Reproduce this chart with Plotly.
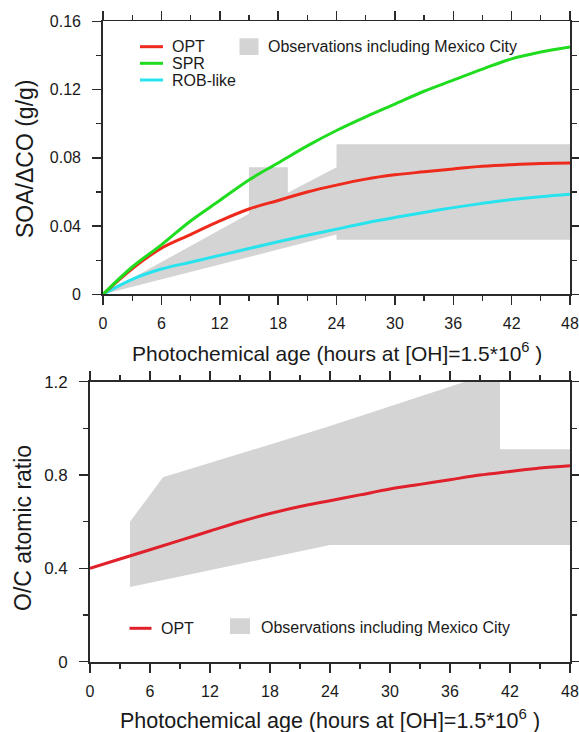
import plotly.graph_objects as go

# ---------------- data ----------------
hours = [0, 3, 6, 9, 12, 15, 18, 21, 24, 27, 30, 33, 36, 39, 42, 45, 48]

soa_opt = [0, 0.015, 0.027, 0.035, 0.043, 0.050, 0.055, 0.060, 0.064, 0.0675, 0.070,
           0.0718, 0.0735, 0.075, 0.076, 0.0767, 0.077]
soa_spr = [0, 0.016, 0.029, 0.043, 0.055, 0.067, 0.077, 0.087, 0.096, 0.104, 0.1115,
           0.119, 0.1255, 0.132, 0.138, 0.142, 0.145]
soa_rob = [0, 0.0088, 0.0148, 0.0188, 0.0228, 0.0268, 0.0308, 0.0346, 0.0382, 0.0418, 0.0450,
           0.0480, 0.0508, 0.0533, 0.0555, 0.0572, 0.0586]

# observed range (polygon outline) for SOA/dCO
obs_soa_hours = [0, 15, 15, 19, 19, 24, 24, 48, 48, 24, 24, 0]
obs_soa_vals = [0, 0.0472, 0.0744, 0.0744, 0.0595, 0.0745, 0.088, 0.088, 0.032, 0.032, 0.035, 0]

oc_opt = [0.40, 0.44, 0.48, 0.52, 0.56, 0.60, 0.635, 0.665, 0.69, 0.715, 0.74,
          0.76, 0.78, 0.80, 0.815, 0.83, 0.84]

# observed range (polygon outline) for O/C
obs_oc_hours = [4, 7.3, 24, 37.5, 41, 41, 48, 48, 24, 4]
obs_oc_vals = [0.60, 0.79, 1.01, 1.2, 1.2, 0.91, 0.91, 0.50, 0.50, 0.32]

x_ticks = [0, 6, 12, 18, 24, 30, 36, 42, 48]

# ---------------- layout helpers ----------------
W, H = 579, 732
FONT = "Liberation Sans, Arial, Helvetica, sans-serif"
TXT = "#1a1a1a"


def fx(p):
    return p / W


def fy(p):
    return 1 - p / H


RED = "#ee2a1c"
GREEN = "#1fdc1f"
CYAN = "#26e3ee"
GRAY = "rgb(212,212,212)"

fig = go.Figure()

# top panel
fig.add_trace(go.Scatter(x=obs_soa_hours, y=obs_soa_vals, fill="toself", fillcolor=GRAY,
                         line=dict(width=0, color=GRAY), mode="lines", hoverinfo="skip",
                         showlegend=False, xaxis="x", yaxis="y"))
fig.add_trace(go.Scatter(x=hours, y=soa_rob, mode="lines", line=dict(color=CYAN, width=3),
                         showlegend=False, xaxis="x", yaxis="y", line_shape="spline"))
fig.add_trace(go.Scatter(x=hours, y=soa_opt, mode="lines", line=dict(color=RED, width=3),
                         showlegend=False, xaxis="x", yaxis="y", line_shape="spline"))
fig.add_trace(go.Scatter(x=hours, y=soa_spr, mode="lines", line=dict(color=GREEN, width=3),
                         showlegend=False, xaxis="x", yaxis="y", line_shape="spline"))

# bottom panel
fig.add_trace(go.Scatter(x=obs_oc_hours, y=obs_oc_vals, fill="toself", fillcolor=GRAY,
                         line=dict(width=0, color=GRAY), mode="lines", hoverinfo="skip",
                         showlegend=False, xaxis="x2", yaxis="y2"))
fig.add_trace(go.Scatter(x=hours, y=oc_opt, mode="lines", line=dict(color="#e0202a", width=3),
                         showlegend=False, xaxis="x2", yaxis="y2", line_shape="spline"))

axis_common = dict(
    showline=True, linecolor="#2a2a2a", linewidth=1.8, mirror="ticks",
    ticks="outside", ticklen=9, tickwidth=1.5, tickcolor="#2a2a2a",
    showgrid=False, zeroline=False, fixedrange=True, automargin=False,
    tickfont=dict(family=FONT, size=16, color=TXT),
)

xaxis_common = dict(axis_common, range=[0, 48], tickvals=x_ticks, ticklabeloverflow="allow",
                    minor=dict(dtick=3, ticklen=5, tickwidth=1.3, tickcolor="#2a2a2a", ticks="outside"),
                    ticklabelstandoff=5)

fig.update_layout(
    width=W, height=H, autosize=False,
    margin=dict(l=0, r=0, t=0, b=0, pad=0, autoexpand=False),
    paper_bgcolor="white", plot_bgcolor="white",
    showlegend=False,
    xaxis=dict(xaxis_common, domain=[fx(103), fx(570)], anchor="y"),
    yaxis=dict(axis_common, domain=[fy(294.3), fy(21.3)], anchor="x", range=[0, 0.16],
               tickvals=[0, 0.04, 0.08, 0.12, 0.16], ticktext=["0", "0.04", "0.08", "0.12", "0.16"],
               minor=dict(dtick=0.02, ticklen=5, tickwidth=1.3, tickcolor="#2a2a2a", ticks="outside"),
               ticklabelstandoff=8),
    xaxis2=dict(xaxis_common, domain=[fx(90), fx(570)], anchor="y2"),
    yaxis2=dict(axis_common, domain=[fy(661.7), fy(381.7)], anchor="x2", range=[0, 1.2],
                tickvals=[0, 0.4, 0.8, 1.2], ticktext=["0", "0.4", "0.8", "1.2"],
                tickfont=dict(family=FONT, size=17, color=TXT),
                minor=dict(dtick=0.2, ticklen=5, tickwidth=1.3, tickcolor="#2a2a2a", ticks="outside"),
                ticklabelstandoff=8),
)

xtitle = "Photochemical age (hours at [OH]=1.5*10<sup>6</sup> )"
ann = [
    dict(text=xtitle, x=fx(336.5), y=fy(352), font=dict(family=FONT, size=21, color=TXT)),
    dict(text=xtitle, x=fx(330), y=fy(719), font=dict(family=FONT, size=21.5, color=TXT)),
    dict(text="SOA/ΔCO (g/g)", x=fx(25), y=fy(159), textangle=-90,
         font=dict(family=FONT, size=23, color=TXT)),
    dict(text="O/C atomic ratio", x=fx(23), y=fy(528), textangle=-90,
         font=dict(family=FONT, size=23, color=TXT)),
    # legends
    dict(text="OPT", x=fx(170), y=fy(46.7), xanchor="left", font=dict(family=FONT, size=16, color=TXT)),
    dict(text="SPR", x=fx(170), y=fy(63.3), xanchor="left", font=dict(family=FONT, size=16, color=TXT)),
    dict(text="ROB-like", x=fx(170), y=fy(80), xanchor="left", font=dict(family=FONT, size=16, color=TXT)),
    dict(text="Observations including Mexico City", x=fx(266), y=fy(46.7), xanchor="left",
         font=dict(family=FONT, size=16, color=TXT)),
    dict(text="OPT", x=fx(159), y=fy(628.3), xanchor="left", font=dict(family=FONT, size=16, color=TXT)),
    dict(text="Observations including Mexico City", x=fx(259), y=fy(627), xanchor="left",
         font=dict(family=FONT, size=16, color=TXT)),
]
for a in ann:
    a.setdefault("xanchor", "center")
    a.update(xref="paper", yref="paper", yanchor="middle", showarrow=False)
fig.update_layout(annotations=ann)

shapes = [
    dict(type="line", x0=fx(140), x1=fx(163), y0=fy(46.7), y1=fy(46.7), line=dict(color=RED, width=3)),
    dict(type="line", x0=fx(140), x1=fx(163), y0=fy(63.3), y1=fy(63.3), line=dict(color=GREEN, width=3)),
    dict(type="line", x0=fx(140), x1=fx(163), y0=fy(80), y1=fy(80), line=dict(color=CYAN, width=3)),
    dict(type="rect", x0=fx(239.5), x1=fx(258.5), y0=fy(55), y1=fy(38.3), fillcolor=GRAY, line=dict(width=0)),
    dict(type="line", x0=fx(129.5), x1=fx(151.5), y0=fy(628.3), y1=fy(628.3), line=dict(color="#e0202a", width=3)),
    dict(type="rect", x0=fx(230), x1=fx(250), y0=fy(634), y1=fy(618.3), fillcolor=GRAY, line=dict(width=0)),
]
for s in shapes:
    s.update(xref="paper", yref="paper")
fig.update_layout(shapes=shapes)

fig.write_html(
    "out.html",
    config={"displayModeBar": False, "staticPlot": True},
    post_script="document.body.style.margin='0px';document.body.style.overflow='hidden';",
)
